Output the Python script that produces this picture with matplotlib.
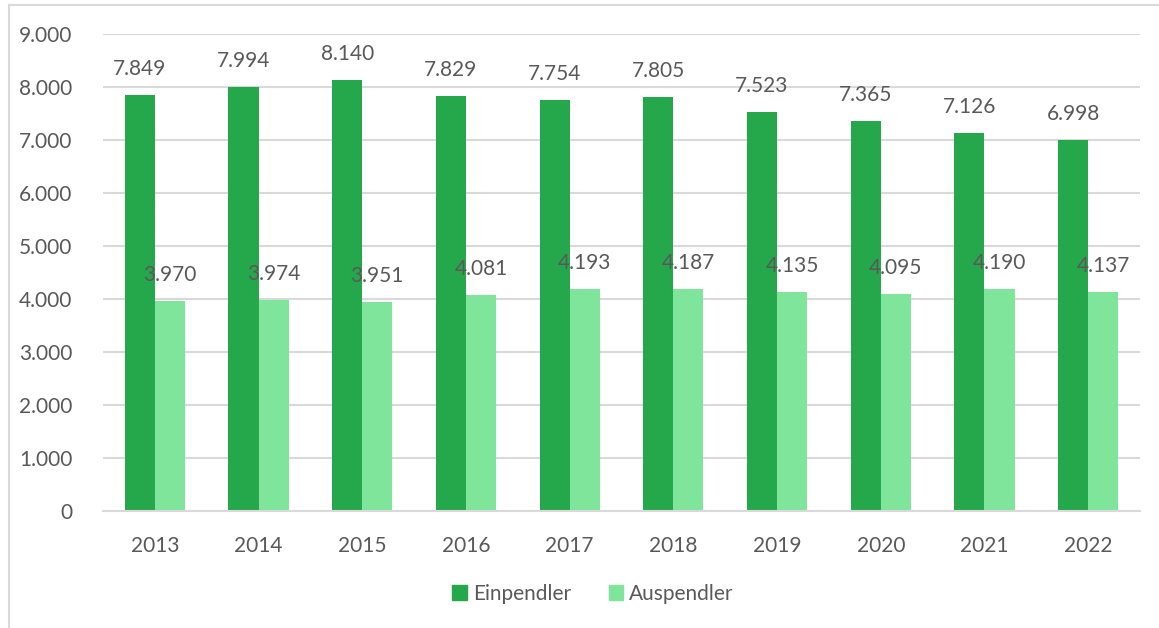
import matplotlib.pyplot as plt
import numpy as np
from matplotlib.lines import Line2D

plt.rcParams['font.family'] = ['Lato', 'DejaVu Sans']

jahre = ['2013', '2014', '2015', '2016', '2017', '2018', '2019', '2020', '2021', '2022']
einpendler = [7849, 7994, 8140, 7829, 7754, 7805, 7523, 7365, 7126, 6998]
auspendler = [3970, 3974, 3951, 4081, 4193, 4187, 4135, 4095, 4190, 4137]

farbe_ein = '#24a84b'
farbe_aus = '#7ee59a'
textfarbe = '#595959'
schrift = 15


def fmt(v):
    # Tausenderpunkt wie im deutschen Format
    return f'{v:,.0f}'.replace(',', '.')


fig = plt.figure(figsize=(11.59, 6.28), dpi=100)
ax = fig.add_axes([103 / 1159, 1 - 511 / 628, 1037 / 1159, 477 / 628])

x = np.arange(len(jahre))
breite = 0.29
ax.bar(x - breite / 2, einpendler, breite, color=farbe_ein, label='Einpendler', zorder=2)
ax.bar(x + breite / 2, auspendler, breite, color=farbe_aus, label='Auspendler', zorder=2)

for xi, v in zip(x, einpendler):
    ax.annotate(fmt(v), (xi - breite / 2, v), xytext=(0, 26), textcoords='offset pixels',
                ha='center', va='center', fontsize=schrift, color=textfarbe, zorder=3)
for xi, v in zip(x, auspendler):
    ax.annotate(fmt(v), (xi + breite / 2, v), xytext=(0, 26), textcoords='offset pixels',
                ha='center', va='center', fontsize=schrift, color=textfarbe, zorder=3)

ax.set_xlim(-0.5, len(jahre) - 0.5)
ax.set_ylim(0, 9000)
ax.set_yticks(range(0, 9001, 1000))
ax.set_yticklabels([fmt(t) for t in range(0, 9001, 1000)])
ax.set_xticks(x)
ax.set_xticklabels(jahre)
ax.tick_params(axis='both', length=0, labelsize=schrift, labelcolor=textfarbe)
ax.tick_params(axis='y', pad=22)
ax.tick_params(axis='x', pad=18)
ax.grid(axis='y', color='#d9d9d9', linewidth=1.5, zorder=0)
for s in ['top', 'right', 'left']:
    ax.spines[s].set_visible(False)
ax.spines['bottom'].set_color('#d9d9d9')
ax.spines['bottom'].set_linewidth(1.5)

handles = [plt.Rectangle((0, 0), 1, 1, color=farbe_ein), plt.Rectangle((0, 0), 1, 1, color=farbe_aus)]
fig.legend(handles, ['Einpendler', 'Auspendler'], loc='center', bbox_to_anchor=(593 / 1159, 1 - 594 / 628),
           ncol=2, frameon=False, fontsize=schrift, labelcolor=textfarbe, handlelength=0.7, handleheight=0.7,
           handletextpad=0.3, columnspacing=1.8)

# Rahmen um die Grafik
fig.add_artist(Line2D([9 / 1159, 9 / 1159], [0, 1 - 5 / 628], transform=fig.transFigure,
                      color='#d9d9d9', linewidth=1.5))
fig.add_artist(Line2D([9 / 1159, 1], [1 - 5 / 628, 1 - 5 / 628], transform=fig.transFigure,
                      color='#d9d9d9', linewidth=1.5))

fig.savefig('out.png', dpi=100)
